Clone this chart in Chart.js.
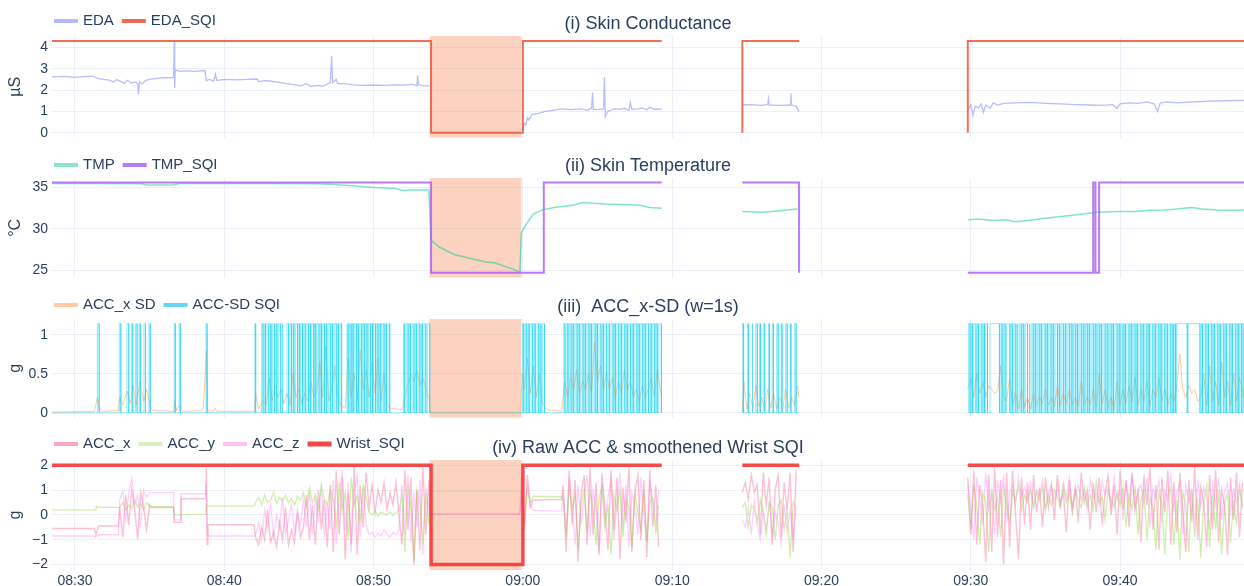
<!DOCTYPE html>
<html>
<head>
<meta charset="utf-8">
<title>Wrist signals and SQI</title>
<script src="https://cdn.jsdelivr.net/npm/chart.js@4.4.1/dist/chart.umd.min.js"></script>
<style>
  body { margin: 0; background: #fff; }
  #wrap { position: relative; width: 1244px; height: 586px; background: #fff; }
  #wrap canvas { position: absolute; left: 0; }
</style>
</head>
<body>
<div id="wrap">
  <canvas id="eda" width="1244" height="150" style="top:0"></canvas>
  <canvas id="tmp" width="1244" height="140" style="top:150px"></canvas>
  <canvas id="accsd" width="1244" height="140" style="top:290px"></canvas>
  <canvas id="acc" width="1244" height="156" style="top:430px"></canvas>
</div>
<script>
// time axis is minutes after midnight (08:30 = 510)
const xMin = 508.46, xMax = 588.3;
const xTickValues = [510, 520, 530, 540, 550, 560, 570, 580];
const xTickLabels = ['08:30', '08:40', '08:50', '09:00', '09:10', '09:20', '09:30', '09:40'];
// shaded window where the wrist device was off the skin
const bandStart = 533.75, bandEnd = 539.9;

// ---- (i) Skin conductance ----
const edaA = [[508.46,2.62],[509.2,2.64],[510.0,2.6],[510.6,2.63],[511.2,2.66],[511.5,2.55],[511.9,2.5],[512.3,2.47],[512.6,2.38],[512.8,2.5],[513.0,2.42],[513.3,2.32],[513.5,2.46],[513.8,2.33],[514.0,2.38],[514.2,2.3],[514.25,1.8],[514.32,2.4],[514.5,2.28],[514.7,2.45],[515.0,2.5],[515.5,2.55],[516.0,2.58],[516.6,2.6],[516.65,4.3],[516.68,2.1],[516.72,2.95],[517.0,2.88],[517.5,2.9],[518.0,2.88],[518.7,2.92],[518.8,2.45],[519.0,2.5],[519.3,2.42],[519.4,2.75],[519.5,2.45],[520.0,2.5],[520.8,2.48],[521.5,2.5],[522.2,2.52],[522.3,2.4],[522.8,2.45],[523.5,2.38],[524.2,2.3],[524.8,2.25],[525.1,2.2],[525.5,2.3],[525.8,2.17],[526.2,2.22],[526.6,2.18],[526.9,2.28],[527.1,2.35],[527.19,3.6],[527.25,2.35],[527.5,2.5],[527.6,2.3],[528.0,2.3],[528.6,2.25],[529.3,2.22],[530.0,2.24],[530.7,2.22],[531.4,2.25],[532.0,2.23],[532.6,2.27],[532.9,2.2],[532.95,2.7],[533.0,2.25],[533.4,2.2],[533.75,2.2]];
const edaB = [[539.95,0.1],[540.1,0.45],[540.2,0.35],[540.3,0.7],[540.4,0.6],[540.6,0.85],[541.0,0.9],[541.5,1.0],[542.0,1.05],[542.6,1.12],[543.2,1.08],[543.9,1.12],[544.3,1.05],[544.6,1.15],[544.67,1.88],[544.72,1.1],[545.0,1.08],[545.4,1.12],[545.46,2.6],[545.52,0.75],[545.7,1.0],[546.1,1.12],[546.5,1.1],[546.8,1.15],[547.1,1.05],[547.2,1.42],[547.3,1.1],[547.8,1.12],[548.0,1.15],[548.3,1.08],[548.5,1.2],[548.8,1.1],[549.3,1.1]];
const edaC = [[554.7,1.3],[555.3,1.32],[556.0,1.28],[556.4,1.33],[556.45,1.6],[556.5,1.3],[557.2,1.28],[557.9,1.3],[557.95,1.85],[558.0,1.3],[558.3,1.25],[558.5,1.0]];
const edaD = [[569.8,1.1],[570.0,1.3],[570.15,0.8],[570.3,1.25],[570.5,1.15],[570.7,1.35],[570.85,0.95],[571.0,1.3],[571.3,1.15],[571.5,1.4],[571.8,1.3],[572.2,1.38],[573.0,1.4],[574.0,1.42],[575.0,1.38],[576.0,1.35],[577.0,1.32],[578.0,1.3],[578.8,1.28],[579.5,1.32],[579.8,1.15],[580.0,1.35],[580.6,1.4],[581.2,1.38],[581.8,1.45],[582.3,1.35],[582.5,1.0],[582.7,1.4],[583.2,1.45],[583.8,1.4],[584.3,1.42],[585.0,1.45],[586.0,1.48],[587.0,1.5],[588.3,1.52]];
const edaSqi = [[508.46,4.3],[533.85,4.3],[533.85,0],[540.0,0],[540.0,4.3],[549.3,4.3],[549.4,null],[554.7,0],[554.7,4.3],[558.5,4.3],[558.6,null],[569.8,0],[569.8,4.3],[588.3,4.3]];

// ---- (ii) Skin temperature ----
const tmpAB = [[508.46,35.5],[510,35.5],[512,35.5],[514.5,35.45],[514.8,35.3],[516,35.3],[516.6,35.35],[517,35.5],[520,35.5],[523,35.5],[526.2,35.45],[527,35.4],[528.8,35.2],[530.1,35.0],[531.4,34.9],[532,34.65],[532.5,34.7],[533.7,34.7],[533.85,28.6],[534.4,27.8],[535.4,26.9],[536.8,26.3],[537.5,26.0],[538.1,25.9],[538.9,25.4],[539.4,25.1],[539.8,24.75],[539.9,29.5],[540.2,30.5],[540.7,31.8],[541.3,32.3],[542.1,32.6],[543.4,32.9],[544.0,33.2],[544.7,33.1],[545.5,33.0],[546.5,32.95],[547.8,32.85],[548.5,32.6],[549.3,32.5]];
const tmpC = [[554.7,32.1],[555.5,32.05],[556.1,32.0],[557.2,32.2],[558.0,32.35],[558.4,32.4]];
const tmpD = [[569.8,31.1],[570.5,31.2],[571.5,31.0],[572.3,31.1],[573.0,30.85],[573.8,31.0],[575.0,31.3],[576.5,31.6],[577.5,31.8],[578.5,32.0],[579.8,32.1],[581.0,32.1],[582.0,32.25],[583.0,32.3],[584.0,32.45],[584.8,32.6],[585.5,32.4],[586.5,32.3],[587.5,32.25],[588.3,32.3]];
const tmpSqi = [[508.46,35.6],[533.85,35.6],[533.85,24.7],[541.4,24.7],[541.4,35.6],[549.3,35.6],[549.4,null],[554.7,35.6],[558.5,35.6],[558.5,24.7],[558.6,null],[569.8,24.7],[578.2,24.7],[578.2,35.6],[578.35,35.6],[578.35,24.7],[578.6,24.7],[578.6,35.6],[588.3,35.6]];

// ---- (iii) ACC_x standard deviation (w=1s) ----
const accSdAB = [[508.46,0.01],[511.3,0.02],[511.5,0.2],[511.6,0.08],[511.8,0.02],[512.9,0.03],[513.0,0.2],[513.2,0.1],[513.5,0.28],[513.7,0.12],[513.9,0.35],[514.1,0.1],[514.35,0.4],[514.6,0.15],[514.8,0.3],[515.0,0.1],[515.2,0.03],[516.6,0.02],[516.7,0.15],[516.8,0.03],[517.0,0.1],[517.2,0.02],[518.5,0.03],[518.6,0.06],[518.8,0.8],[518.9,0.03],[519.3,0.02],[519.4,0.06],[519.5,0.02],[522.0,0.02],[522.1,0.25],[522.3,0.05],[522.6,0.15],[522.8,0.1],[523.0,0.45],[523.2,0.15],[523.4,0.35],[523.6,0.2],[523.8,0.3],[524.0,0.12],[524.2,0.25],[524.4,0.1],[524.6,0.5],[524.8,0.2],[525.0,0.3],[525.2,0.12],[525.4,0.25],[525.6,0.15],[525.8,0.4],[526.0,0.2],[526.2,0.3],[526.4,0.65],[526.6,0.2],[526.8,0.85],[527.0,0.15],[527.2,0.3],[527.4,0.6],[527.6,0.2],[527.8,0.1],[527.9,0.08],[528.1,0.06],[528.3,0.7],[528.5,0.2],[528.7,0.5],[528.9,0.15],[529.1,0.8],[529.3,0.3],[529.5,0.55],[529.7,0.2],[529.9,0.65],[530.1,0.25],[530.3,0.7],[530.5,0.15],[530.7,0.5],[530.9,0.1],[531.1,0.06],[531.5,0.05],[531.9,0.04],[532.1,0.2],[532.3,0.35],[532.5,0.5],[532.7,0.4],[532.9,0.55],[533.1,0.35],[533.3,0.45],[533.5,0.3],[533.7,0.2],[533.8,0.01],[539.85,0.01],[539.95,0.5],[540.1,0.3],[540.3,0.7],[540.5,0.25],[540.7,0.6],[540.9,0.2],[541.1,0.5],[541.3,0.15],[541.5,0.05],[542.0,0.03],[542.6,0.02],[542.8,0.4],[543.0,0.2],[543.2,0.45],[543.4,0.3],[543.6,0.55],[543.8,0.25],[544.0,0.4],[544.2,0.3],[544.4,0.5],[544.6,0.25],[544.8,0.9],[545.0,0.4],[545.2,0.6],[545.4,0.3],[545.6,0.5],[545.8,0.3],[546.0,0.45],[546.2,0.2],[546.4,0.4],[546.6,0.25],[546.8,0.55],[547.0,0.3],[547.2,0.4],[547.4,0.2],[547.6,0.3],[547.8,0.15],[548.0,0.35],[548.2,0.2],[548.4,0.3],[548.6,0.45],[548.8,0.2],[549.0,0.55],[549.2,0.3],[549.3,0.2]];
const accSdC = [[554.7,0.02],[554.8,0.4],[555.0,0.05],[555.2,0.25],[555.4,0.05],[555.6,0.35],[555.8,0.08],[556.0,0.2],[556.2,0.04],[556.4,0.3],[556.6,0.06],[556.8,0.25],[557.0,0.05],[557.2,0.2],[557.4,0.05],[557.6,0.3],[557.8,0.06],[558.0,0.2],[558.2,0.1],[558.4,0.35],[558.5,0.2]];
const accSdD = [[569.8,0.3],[570.0,0.45],[570.2,0.2],[570.4,0.5],[570.6,0.25],[570.8,0.4],[571.0,0.2],[571.2,0.35],[571.4,0.3],[571.6,0.25],[571.8,0.28],[572.0,0.6],[572.2,0.2],[572.4,0.15],[572.6,0.45],[572.8,0.1],[573.0,0.25],[573.2,0.05],[573.4,0.3],[573.6,0.08],[573.8,0.2],[574.0,0.05],[574.2,0.25],[574.4,0.1],[574.6,0.2],[574.8,0.12],[575.0,0.3],[575.2,0.1],[575.4,0.2],[575.6,0.08],[575.8,0.35],[576.0,0.1],[576.2,0.25],[576.4,0.12],[576.6,0.3],[576.8,0.1],[577.0,0.2],[577.2,0.08],[577.4,0.4],[577.6,0.1],[577.8,0.2],[578.0,0.1],[578.2,0.3],[578.4,0.08],[578.6,0.5],[578.8,0.12],[579.0,0.3],[579.2,0.06],[579.4,0.2],[579.6,0.05],[579.8,0.4],[580.0,0.1],[580.2,0.3],[580.4,0.12],[580.6,0.35],[580.8,0.15],[581.0,0.45],[581.2,0.1],[581.4,0.3],[581.6,0.15],[581.8,0.4],[582.0,0.1],[582.2,0.3],[582.4,0.2],[582.6,0.45],[582.8,0.15],[583.0,0.3],[583.2,0.1],[583.4,0.25],[583.6,0.15],[583.8,0.35],[584.0,0.75],[584.2,0.3],[584.4,0.2],[584.6,0.35],[584.8,0.25],[585.0,0.3],[585.2,0.15],[585.4,0.2],[585.6,0.5],[585.8,0.1],[586.0,0.6],[586.2,0.15],[586.4,0.4],[586.6,0.1],[586.8,0.65],[587.0,0.2],[587.2,0.4],[587.4,0.1],[587.6,0.5],[587.8,0.15],[588.0,0.45],[588.3,0.2]];
// intervals [start, end] where the ACC-SD SQI is 1
const sqiHighAB = [[511.5,511.62],[512.97,513.07],[513.48,513.6],[513.8,513.87],[514.05,514.16],[514.3,514.38],[514.62,514.72],[514.96,515.04],[516.65,516.72],[516.98,517.06],[518.78,518.85],
  [522.05,522.1],[522.5,522.6],[522.7,522.76],[522.86,522.98],[523.08,523.13],[523.22,523.36],[523.46,523.52],[523.62,523.78],[523.87,523.93],[524.2,524.31],[524.4,524.5],[524.6,524.66],[524.76,524.9],[524.99,525.05],[525.14,525.24],[525.32,525.42],[525.52,525.64],[525.72,525.78],[525.86,525.99],[526.06,526.13],[526.22,526.35],[526.44,526.51],[526.6,526.72],[526.8,526.86],[526.96,527.1],[527.19,527.26],[527.36,527.5],[527.59,527.66],[527.75,527.86],[528.22,528.3],[528.39,528.49],[528.56,528.63],[528.71,528.86],[528.93,529.0],[529.1,529.21],[529.29,529.38],[529.47,529.56],[529.65,529.78],[529.87,529.93],[530.01,530.13],[530.21,530.3],[530.4,530.48],[530.57,530.7],[530.79,530.86],[530.96,531.08],
  [532.0,532.08],[532.18,532.31],[532.4,532.47],[532.58,532.71],[532.8,532.88],[532.98,533.1],[533.2,533.27],[533.38,533.5],[533.6,533.76],
  [539.98,540.06],[540.16,540.26],[540.36,540.42],[540.55,540.66],[540.76,540.83],[540.95,541.06],[541.15,541.22],[541.33,541.45],
  [542.74,542.82],[542.95,543.02],[543.11,543.23],[543.32,543.4],[543.5,543.63],[543.73,543.8],[543.9,544.03],[544.13,544.2],[544.3,544.43],[544.53,544.6],[544.7,544.84],[544.93,545.0],[545.1,545.23],[545.33,545.4],[545.5,545.61],[545.72,545.8],[545.9,546.04],[546.13,546.2],[546.3,546.42],[546.52,546.6],[546.7,546.83],[546.93,547.0],[547.1,547.22],[547.33,547.4],[547.5,547.64],[547.73,547.8],[547.9,548.03],[548.12,548.2],[548.3,548.42],[548.52,548.6],[548.7,548.83],[548.92,549.0],[549.1,549.26]];
const sqiHighC = [[554.72,554.78],[555.05,555.12],[555.35,555.4],[555.6,555.7],[555.85,555.92],[556.1,556.2],[556.45,556.52],[556.7,556.78],[557.0,557.1],[557.3,557.36],[557.6,557.7],[557.9,557.96],[558.2,558.3]];
const sqiHighD = [[569.84,569.95],[570.05,570.12],[570.2,570.35],[570.45,570.52],[570.62,570.75],[570.85,570.92],[571.0,571.12],[571.29,571.92],[572.02,572.1],[572.2,572.3],[572.4,572.62],[572.72,572.8],[572.9,573.02],[573.1,573.16],[573.25,573.38],[573.48,573.55],[573.65,573.8],[573.9,573.96],[574.05,574.18],[574.28,574.35],[574.45,574.58],[574.68,574.74],[574.84,574.98],[575.08,575.15],[575.25,575.38],[575.48,575.55],[575.65,575.8],[575.9,575.96],[576.06,576.2],[576.3,576.36],[576.46,576.6],[576.7,576.78],[576.88,577.0],[577.1,577.16],[577.26,577.4],[577.5,577.58],[577.68,577.8],[577.9,577.96],[578.06,578.2],[578.3,578.38],[578.48,578.6],[578.7,578.76],[578.86,579.0],[579.1,579.18],[579.28,579.4],[579.5,579.56],[579.66,579.8],[579.9,579.98],[580.08,580.2],[580.3,580.36],[580.46,580.6],[580.7,580.78],[580.88,581.0],[581.1,581.16],[581.26,581.4],[581.5,581.58],[581.68,581.8],[581.9,581.96],[582.06,582.2],[582.3,582.38],[582.48,582.6],[582.7,582.76],[582.86,583.0],[583.1,583.18],[583.28,583.4],[583.5,583.56],[583.66,583.72],[583.79,584.5],[584.56,585.35],[585.45,585.52],[585.62,585.75],[585.85,585.92],[586.02,586.15],[586.25,586.32],[586.42,586.55],[586.65,586.72],[586.82,586.95],[587.05,587.12],[587.22,587.35],[587.45,587.52],[587.62,587.75],[587.85,587.92],[588.0,588.12],[588.2,588.3]];

// ---- (iv) raw accelerometer, sampled every 0.2 min inside active stretches ----
const accDt = 0.2;
const accX_pre  = [[508.46,-0.55],[511.3,-0.55],[511.4,-0.8],[511.5,-0.6],[511.6,-0.45],[512.9,-0.45]];
const accX_A1   = [0.3,-0.9,0.8,-0.4,1.0,0.2,-1.0,0.9,0.3,-0.6,0.4];
const accX_mid  = [[515.1,0.3],[516.6,0.3],[516.65,-0.3],[517.05,-0.3],[517.1,0.65],[518.75,0.65],[518.8,1.9],[518.85,-1.2],[518.9,-0.4],[522.0,-0.4]];
const accX_A2   = [-0.9,-1.2,-0.5,-1.0,0.2,-1.1,-0.7,-1.3,-0.3,-1.0,0.3,-1.2,-0.6,-1.1,0.1,-0.9,
  -0.5,0.8,-1.0,0.4,-1.2,1.0,-0.6,0.6,-1.3,1.2,
  -1.5,1.8,-0.8,1.5,-1.8,0.9,-1.2,2.0,-1.6,1.2,-0.5,1.7,
  0.3,1.2,0.1,1.0,0.5,1.3,0.2,0.9,0.4,1.3,0.0,
  -1.2,1.8,-0.6,1.5,-2.0,1.0,-1.4,1.9,-0.8,1.4];
const accX_band = [[533.8,0.02],[539.8,0.02]];
const accX_B1   = [1.5,-0.6,1.6,0.3];
const accX_flat = [[540.7,0.6],[542.6,0.62]];
const accX_B2   = [1.2,-1.5,1.8,-0.4,1.4,-1.9,0.8,1.6,-1.2,1.9,-0.8,1.3,-1.6,1.7,0.2,-1.4,1.8,-0.6,1.5,-1.8,1.1,-0.3,1.9,-1.5,0.9,1.6,-1.0,1.4,-1.7,1.8,-0.5,1.2,-1.3];
const accX_C    = [0.9,1.3,0.6,1.6,0.9,1.2,-0.8,1.7,0.4,1.5,-1.2,1.0,1.6,-0.9,1.3,0.2,1.7,-1.5,1.8];
const accX_D    = [1.5,-0.8,1.8,-1.2,1.2,0.3,-1.9,1.6,-1.5,1.9,
  -0.9,1.4,-2.0,1.7,-1.3,1.8,0.0,-1.8,1.5,-0.4,
  1.3,-0.6,1.6,0.1,1.1,-0.5,1.5,0.3,1.2,-0.2,
  1.6,0.4,0.9,-0.7,1.4,0.2,1.1,-0.3,1.7,0.5,
  1.0,-0.6,1.3,0.1,1.5,-0.4,0.9,1.6,0.0,1.2,
  -0.8,1.8,0.2,1.4,-0.5,1.7,0.3,1.0,-1.1,1.6,
  0.4,1.9,-0.6,1.2,-1.4,1.5,0.1,1.8,-1.2,1.3,
  -0.7,1.7,0.2,-1.5,1.4,-0.3,1.9,-1.0,1.1,0.5,
  -1.3,1.6,-0.6,1.8,-1.1,1.0,0.4,-1.6,1.5,-0.2,
  1.7,-0.9,1.3];

const accY_pre  = [[508.46,0.2],[511.4,0.2],[511.45,0.35],[511.6,0.3],[512.9,0.3]];
const accY_A1   = [0.3,0.5,0.2,0.4,0.25,0.6,0.3,0.45,0.2,0.5,0.35];
const accY_mid  = [[515.1,0.33],[516.6,0.33],[516.65,0.0],[518.75,0.02],[518.8,0.4],[518.85,0.35],[522.0,0.35]];
const accY_A2   = [0.5,0.7,0.4,0.8,0.5,0.6,0.9,0.45,0.7,0.55,0.8,0.5,0.65,0.4,0.75,0.6,
  0.9,0.3,1.1,0.5,0.8,0.2,1.2,0.6,0.4,1.0,
  0.6,-0.5,1.3,0.2,0.9,-1.0,1.5,0.4,0.8,-0.3,1.2,0.7,
  0.1,0.0,0.15,-0.05,0.1,0.05,0.0,0.12,-0.02,0.08,0.2,
  0.8,-1.5,1.2,0.3,-1.9,1.0,0.5,-1.2,0.9,-0.4];
const accY_band = [[533.8,0.95],[539.8,0.95]];
const accY_B1   = [0.8,-0.4,1.0,0.5];
const accY_flat = [[540.7,0.75],[542.6,0.72]];
const accY_B2   = [0.6,-0.9,1.1,0.2,0.8,-1.4,0.5,1.0,-0.7,0.9,0.3,-1.2,0.7,1.1,-0.5,0.4,-1.6,0.8,0.2,1.0,-0.9,0.6,0.3,-1.3,0.9,0.1,-0.6,1.0,-1.1,0.5,0.7,-0.8,0.4];
const accY_C    = [0.3,0.5,-0.5,0.4,0.2,-0.3,0.6,0.1,-0.8,0.5,0.3,-1.0,0.4,0.6,-0.6,0.2,-1.7,0.5,0.3];
const accY_D    = [0.8,-0.6,1.2,0.3,-1.2,0.9,0.5,-1.5,1.0,0.2,
  0.7,-0.9,1.1,0.4,-0.3,0.9,0.6,1.2,0.2,0.8,
  0.5,1.0,0.3,0.9,0.6,1.1,0.2,0.8,0.4,1.0,
  0.7,0.3,1.2,0.5,0.9,0.1,1.0,0.6,0.3,1.1,
  0.4,0.8,0.2,1.3,0.5,0.7,-0.2,1.0,0.6,0.3,
  0.9,0.4,1.1,-0.5,0.8,0.2,1.2,-0.8,0.6,1.0,
  -1.0,0.7,0.3,-1.4,0.9,0.5,-1.6,0.8,1.1,-1.2,
  0.6,-1.8,0.9,0.4,-1.5,1.0,-0.9,0.7,-1.7,0.5,
  1.2,-1.3,0.8,-0.6,1.0,-1.6,0.4,0.9,-1.1,0.6,
  -0.4,1.1,0.3];

const accZ_pre  = [[508.46,-0.85],[511.3,-0.85],[511.35,-0.9],[511.6,-0.8],[512.9,-0.8]];
const accZ_A1   = [0.6,1.0,-0.3,0.9,1.5,0.4,0.8,-0.5,1.0,0.7,0.9];
const accZ_mid  = [[515.1,0.9],[516.6,0.9],[516.65,-0.2],[517.05,-0.2],[517.1,0.85],[518.75,0.85],[518.8,1.3],[518.85,-0.5],[518.9,-0.85],[522.0,-0.85]];
const accZ_A2   = [-0.8,-0.3,-1.0,0.2,-0.6,0.5,-0.9,0.0,-0.5,0.7,-0.8,-0.2,0.4,-0.7,0.1,-0.4,
  0.6,-0.5,1.0,-0.8,0.8,-0.3,1.2,-0.9,0.5,-0.6,
  1.4,-1.2,0.7,1.8,-0.6,1.3,-1.5,0.9,1.6,-0.9,1.1,-0.4,
  -0.8,-0.7,-0.9,-0.75,-0.85,-0.6,-0.8,-0.9,-0.7,-0.8,-0.6,
  1.2,-0.8,1.6,-1.1,0.9,-0.5,1.4,-1.6,1.1,0.2];
const accZ_band = [[533.8,0.05],[539.8,0.05]];
const accZ_B1   = [0.8,0.1,1.2,0.4];
const accZ_flat = [[540.7,0.18],[542.6,0.15]];
const accZ_B2   = [0.9,-0.7,1.5,0.3,-1.2,1.2,-0.4,0.8,1.6,-0.9,1.0,0.2,-1.5,1.3,-0.3,0.7,1.4,-1.0,0.5,1.7,-0.6,1.2,-1.3,0.9,0.4,-0.8,1.5,0.0,-1.1,1.3,0.6,-0.5,1.0];
const accZ_C    = [-0.2,-0.5,0.3,-0.8,0.6,-0.4,-1.0,0.2,-0.6,0.5,-0.9,0.1,-0.3,-1.2,0.4,-0.7,0.2,-1.0,0.3];
const accZ_D    = [1.2,0.3,-1.0,1.5,0.6,-0.4,1.7,0.2,1.0,-0.8,
  1.4,0.5,1.6,-0.3,0.9,1.2,0.4,1.5,0.7,1.1,
  0.6,1.3,0.3,1.0,0.8,1.4,0.2,0.9,1.2,0.5,
  1.1,0.4,1.3,0.7,1.5,0.3,0.8,1.2,0.6,1.0,
  0.2,1.4,0.7,0.9,0.4,1.3,0.8,1.1,0.3,1.5,
  0.6,1.0,-0.2,1.3,0.5,1.6,0.1,0.9,1.2,0.4,
  1.5,-0.5,1.1,0.7,1.4,-0.3,1.0,0.6,1.6,0.2,
  0.9,1.3,-0.8,1.2,0.5,1.0,-0.4,1.4,0.3,1.1,
  0.7,-0.6,1.2,0.4,1.5,-0.2,0.9,1.3,0.1,1.0,
  0.5,1.2,0.3];
const wristSqi = [[508.46,2],[533.85,2],[533.85,-2],[540.0,-2],[540.0,2],[549.3,2],[549.4,null],[554.7,2],[558.5,2],[558.6,null],[569.8,2],[588.3,2]];

// helpers
const pairs = arr => arr.map(p => ({ x: p[0], y: p[1] }));
const gap = t => ({ x: t, y: null });
const seg = (t0, vals) => vals.map((v, i) => ({ x: t0 + i * accDt, y: v }));

function steps(t0, t1, highs, hi) {
  const out = [{ x: t0, y: 0 }];
  highs.forEach(([a, b]) => out.push({ x: a, y: 0 }, { x: a, y: hi }, { x: b, y: hi }, { x: b, y: 0 }));
  out.push({ x: t1, y: 0 });
  return out;
}

function rawAcc(pre, a1, mid, a2, band, b1, flat, b2, c, d) {
  return [].concat(pairs(pre), seg(513.0, a1), pairs(mid), seg(522.1, a2), pairs(band),
    seg(539.9, b1), pairs(flat), seg(542.7, b2), [gap(549.4)], seg(554.7, c), [gap(558.6)], seg(569.8, d));
}

const textColor = '#2a3f5f';
const gridColor = '#ebf0f8';
const fontFamily = '"Liberation Sans", Arial, sans-serif';

// orange window drawn under the traces
const bandPlugin = {
  id: 'offWrist',
  beforeDatasetsDraw(chart) {
    const { ctx, chartArea } = chart;
    const x = chart.scales.x;
    const x0 = x.getPixelForValue(bandStart), x1 = x.getPixelForValue(bandEnd);
    ctx.save();
    ctx.fillStyle = 'rgba(246,150,105,0.42)';
    ctx.fillRect(x0, chartArea.top, x1 - x0, chartArea.bottom - chartArea.top);
    ctx.restore();
  }
};

// legend on the left and subplot title centred, on the same row
const headerPlugin = {
  id: 'panelHeader',
  afterDraw(chart, args, opts) {
    const { ctx, chartArea } = chart;
    ctx.save();
    ctx.textBaseline = 'middle';
    ctx.font = '15px ' + fontFamily;
    const ly = chartArea.top - opts.legendUp;
    let x = 54;
    opts.items.forEach(it => {
      ctx.strokeStyle = it.color;
      ctx.lineWidth = it.width || 4;
      ctx.beginPath();
      ctx.moveTo(x, ly);
      ctx.lineTo(x + 24, ly);
      ctx.stroke();
      ctx.fillStyle = textColor;
      ctx.textAlign = 'left';
      ctx.fillText(it.label, x + 29, ly);
      x += 29 + ctx.measureText(it.label).width + 8;
    });
    ctx.font = '18px ' + fontFamily;
    ctx.textAlign = 'center';
    ctx.fillText(opts.title, (chartArea.left + chartArea.right) / 2, chartArea.top - 12);
    ctx.restore();
  }
};

function fmt(v) {
  return v < 0 ? '\u2212' + Math.abs(v) : String(v);
}

function makePanel(id, p) {
  return new Chart(document.getElementById(id), {
    type: 'line',
    data: { datasets: p.datasets },
    options: {
      responsive: false,
      animation: false,
      devicePixelRatio: 1,
      events: [],
      layout: { padding: { top: p.padTop, bottom: p.padBottom, left: 0, right: 0 } },
      elements: { point: { radius: 0 }, line: { tension: 0 } },
      plugins: {
        legend: { display: false },
        tooltip: { enabled: false },
        panelHeader: { items: p.legend, title: p.title, legendUp: p.legendUp }
      },
      scales: {
        x: {
          type: 'linear', min: xMin, max: xMax,
          grid: { color: gridColor, drawTicks: false },
          border: { display: false },
          afterBuildTicks: s => { s.ticks = xTickValues.map(v => ({ value: v })); },
          afterFit: s => { s.height = p.showX ? 16 : 0; },
          ticks: {
            display: p.showX, padding: 3, maxRotation: 0, autoSkip: false,
            color: textColor, font: { size: 14, family: fontFamily },
            callback: v => xTickLabels[xTickValues.indexOf(v)]
          }
        },
        y: {
          min: p.yMin, max: p.yMax,
          grid: { color: gridColor, drawTicks: false },
          border: { display: false },
          afterBuildTicks: s => { s.ticks = p.yTicks.map(v => ({ value: v })); },
          afterFit: s => { s.width = 52; },
          ticks: { padding: 4, color: textColor, font: { size: 14, family: fontFamily }, callback: fmt },
          title: { display: true, text: p.yTitle, color: textColor, font: { size: 16, family: fontFamily }, padding: { top: 6, bottom: 0 } }
        }
      }
    },
    plugins: [bandPlugin, headerPlugin]
  });
}

const line = (label, data, color, width, order) => ({ label, data, borderColor: color, borderWidth: width, order, spanGaps: false, fill: false });

makePanel('eda', {
  title: '(i) Skin Conductance', yTitle: '\u00b5S', padTop: 36, padBottom: 5, legendUp: 15, showX: false,
  yMin: -0.23, yMax: 4.54, yTicks: [0, 1, 2, 3, 4],
  legend: [{ label: 'EDA', color: '#b4b9f9' }, { label: 'EDA_SQI', color: '#ef6a55' }],
  datasets: [
    line('EDA', [].concat(pairs(edaA), [gap(533.9)], pairs(edaB), [gap(549.4)], pairs(edaC), [gap(558.6)], pairs(edaD)), 'rgba(99,110,250,0.45)', 1.3, 2),
    line('EDA_SQI', pairs(edaSqi), 'rgba(239,85,59,0.85)', 2, 1)
  ]
});

makePanel('tmp', {
  title: '(ii) Skin Temperature', yTitle: '\u00b0C', padTop: 28, padBottom: 3, legendUp: 13, showX: false,
  yMin: 24.1, yMax: 36.16, yTicks: [25, 30, 35],
  legend: [{ label: 'TMP', color: '#8fe3c8' }, { label: 'TMP_SQI', color: '#b47cf7' }],
  datasets: [
    line('TMP', [].concat(pairs(tmpAB), [gap(549.4)], pairs(tmpC), [gap(558.6)], pairs(tmpD)), 'rgba(0,204,150,0.5)', 1.5, 2),
    line('TMP_SQI', pairs(tmpSqi), 'rgba(171,99,250,0.85)', 2, 1)
  ]
});

makePanel('accsd', {
  title: '(iii)  ACC_x-SD (w=1s)', yTitle: 'g', padTop: 29, padBottom: 2, legendUp: 14, showX: false,
  yMin: -0.06, yMax: 1.2, yTicks: [0, 0.5, 1],
  legend: [{ label: 'ACC_x SD', color: '#fcc9a5' }, { label: 'ACC-SD SQI', color: '#5fd9f0' }],
  datasets: [
    line('ACC_x SD', [].concat(pairs(accSdAB), [gap(549.4)], pairs(accSdC), [gap(558.6)], pairs(accSdD)), 'rgba(255,161,90,0.55)', 1, 2),
    line('ACC-SD SQI', [].concat(steps(508.46, 549.3, sqiHighAB, 1.14), [gap(549.4)], steps(554.7, 558.5, sqiHighC, 1.14), [gap(558.6)], steps(569.8, 588.3, sqiHighD, 1.14)), 'rgba(25,211,243,0.48)', 1, 1)
  ]
});

makePanel('acc', {
  title: '(iv) Raw ACC & smoothened Wrist SQI', yTitle: 'g', padTop: 30, padBottom: 0, legendUp: 16, showX: true,
  yMin: -2.22, yMax: 2.21, yTicks: [-2, -1, 0, 1, 2],
  legend: [{ label: 'ACC_x', color: '#f8a9bb' }, { label: 'ACC_y', color: '#d7efbd' }, { label: 'ACC_z', color: '#fcc4f6' }, { label: 'Wrist_SQI', color: '#f24848', width: 5 }],
  datasets: [
    line('ACC_x', rawAcc(accX_pre, accX_A1, accX_mid, accX_A2, accX_band, accX_B1, accX_flat, accX_B2, accX_C, accX_D), 'rgba(248,120,160,0.45)', 1.4, 2),
    line('ACC_y', rawAcc(accY_pre, accY_A1, accY_mid, accY_A2, accY_band, accY_B1, accY_flat, accY_B2, accY_C, accY_D), 'rgba(182,232,128,0.65)', 1.3, 3),
    line('ACC_z', rawAcc(accZ_pre, accZ_A1, accZ_mid, accZ_A2, accZ_band, accZ_B1, accZ_flat, accZ_B2, accZ_C, accZ_D), 'rgba(255,151,255,0.45)', 1.3, 4),
    line('Wrist_SQI', pairs(wristSqi), 'rgba(244,60,60,0.92)', 3.5, 1)
  ]
});
</script>
</body>
</html>
